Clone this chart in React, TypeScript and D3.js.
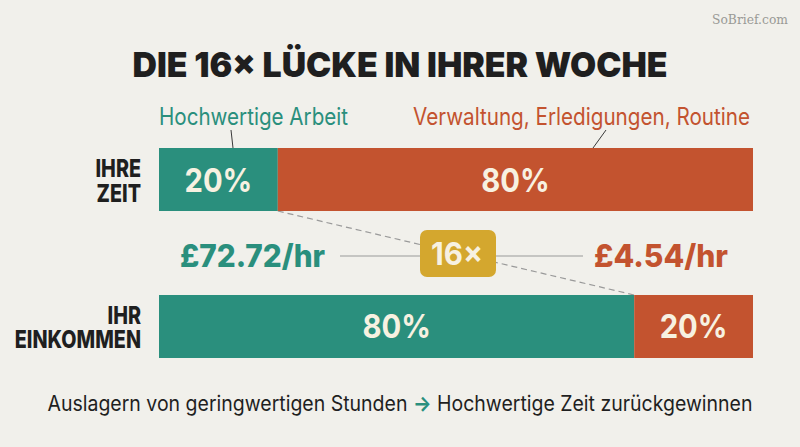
import React from "react";
import * as d3 from "d3";

const W = 800;
const H = 447;

const titleText = "DIE 16× LÜCKE IN IHRER WOCHE";
const watermark = "SoBrief.com";
const rowLabels = [["IHRE", "ZEIT"], ["IHR", "EINKOMMEN"]];
const rowKeys = ["time", "income"];
const categories = ["Hochwertige Arbeit", "Verwaltung, Erledigungen, Routine"];
const timeShares = [20, 80];
const incomeShares = [80, 20];
const hourlyRates = [72.72, 4.54];
const multiplierLabel = "16×";
const footerLeft = "Auslagern von geringwertigen Stunden";
const footerArrow = "→";
const footerRight = "Hochwertige Zeit zurückgewinnen";

const COLORS = ["#2a8f7d", "#c3532f"];
const GOLD = "#d4a72e";
const CREAM = "#f7f1e1";
const BG = "#f1f0eb";
const DARK = "#1f1f1f";
const font = "Inter, 'Noto Sans', sans-serif";

function SText({ x, y, sx = 1, children, ...rest }: any) {
  return (
    <g transform={`translate(${x},${y}) scale(${sx},1)`}>
      <text x={0} y={0} fontFamily={font} {...rest}>{children}</text>
    </g>
  );
}

export default function App() {
  const x = d3.scaleLinear().domain([0, 100]).range([159, 753]);
  const y = d3.scaleBand<string>().domain(rowKeys).range([148, 358]).paddingInner(0.5714);
  const bh = y.bandwidth();
  const series = [timeShares, incomeShares];

  const stacks = series.map((vals, r) => {
    let acc = 0;
    return vals.map((v, i) => {
      const s = { x0: acc, x1: acc + v, v, i, r };
      acc += v;
      return s;
    });
  });

  const fmt = (v: number) => `£${d3.format(".2f")(v)}/hr`;
  const midY = 256;
  const topBoundary = x(timeShares[0]);
  const botBoundary = x(incomeShares[0]);

  return (
    <div style={{ position: "fixed", left: 0, top: 0, width: W, height: H }}>
      <svg width={W} height={H} style={{ display: "block", background: BG }}>
        <rect width={W} height={H} fill={BG} />
        <text x={788} y={24} textAnchor="end" fontFamily="'DejaVu Serif', 'Liberation Serif', serif"
          fontSize={12.5} fill="#9a9a96" textLength={76} lengthAdjust="spacingAndGlyphs">{watermark}</text>
        <text x={400} y={77} textAnchor="middle" fontFamily={font} fontWeight={900} fontSize={34.5}
          fill={DARK} textLength={535} lengthAdjust="spacingAndGlyphs">{titleText}</text>

        {/* category labels */}
        <text x={159} y={125} fontFamily={font} fontSize={24} fill={COLORS[0]}
          textLength={189} lengthAdjust="spacingAndGlyphs">{categories[0]}</text>
        <text x={750} y={125} textAnchor="end" fontFamily={font} fontSize={24} fill={COLORS[1]}
          textLength={337} lengthAdjust="spacingAndGlyphs">{categories[1]}</text>
        <line x1={231} y1={130} x2={233} y2={148} stroke="#3a3a3a" strokeWidth={1} />
        <line x1={606} y1={130} x2={593} y2={148} stroke="#3a3a3a" strokeWidth={1} />

        {/* dashed connector */}
        <line x1={topBoundary} y1={(y("time") ?? 0) + bh} x2={botBoundary} y2={y("income") ?? 0}
          stroke="#9a9a9a" strokeWidth={1.2} strokeDasharray="6,4" />

        {/* bars */}
        {stacks.map((segs, r) => (
          <g key={r}>
            {segs.map((s) => (
              <g key={s.i}>
                <rect x={x(s.x0)} y={y(rowKeys[r])} width={x(s.x1) - x(s.x0)} height={bh}
                  fill={COLORS[s.i]} />
                <SText x={(x(s.x0) + x(s.x1)) / 2} y={(y(rowKeys[r]) ?? 0) + bh / 2 + 12} sx={0.9}
                  textAnchor="middle" fontWeight={700} fontSize={32.5} fill={CREAM}>
                  {`${s.v}%`}
                </SText>
              </g>
            ))}
            {rowLabels[r].map((t, k) => (
              <SText key={k} x={141} y={(y(rowKeys[r]) ?? 0) + 29 + k * 24.5} sx={0.79}
                textAnchor="end" fontWeight={800} fontSize={25} fill={DARK}>
                {t}
              </SText>
            ))}
          </g>
        ))}

        {/* rate row */}
        <line x1={340} y1={midY} x2={583} y2={midY} stroke="#9a9a9a" strokeWidth={1.2} />
        <text x={180} y={267} fontFamily={font} fontWeight={800} fontSize={31} fill={COLORS[0]}
          textLength={145} lengthAdjust="spacingAndGlyphs">{fmt(hourlyRates[0])}</text>
        <text x={594} y={267} fontFamily={font} fontWeight={800} fontSize={31} fill={COLORS[1]}
          textLength={134} lengthAdjust="spacingAndGlyphs">{fmt(hourlyRates[1])}</text>
        <rect x={420} y={230} width={76} height={47} rx={7} fill={GOLD} />
        <text x={431} y={265} fontFamily={font} fontWeight={700}
          fontSize={31} fill={CREAM} textLength={52} lengthAdjust="spacingAndGlyphs">{multiplierLabel}</text>

        {/* footer */}
        <text x={400} y={411} textAnchor="middle" fontFamily={font} fontSize={21} fill={DARK}
          textLength={705} lengthAdjust="spacingAndGlyphs">
          <tspan>{footerLeft} </tspan>
          <tspan fill={COLORS[0]} fontWeight={700}>{footerArrow}</tspan>
          <tspan> {footerRight}</tspan>
        </text>
      </svg>
    </div>
  );
}
